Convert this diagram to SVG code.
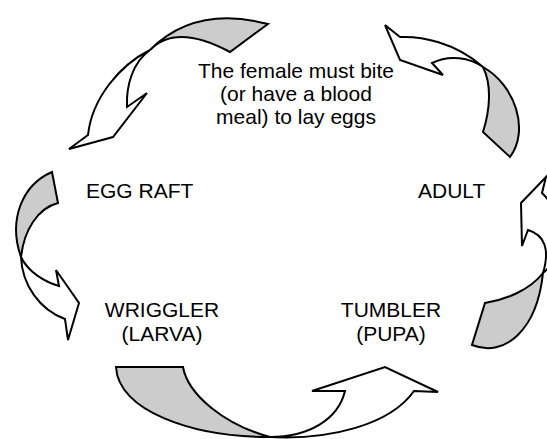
<svg xmlns="http://www.w3.org/2000/svg" width="547" height="439" viewBox="0 0 547 439">
<style>
.back{fill:#cccccc;stroke:#000;stroke-width:2;stroke-linejoin:miter}
.front{fill:#ffffff;stroke:#000;stroke-width:2;stroke-linejoin:miter}
text{font-family:"Liberation Sans",Arial,sans-serif;font-size:21px;fill:#000}
</style>
<rect width="547" height="439" fill="#fff"/>
<g id="connectors">
<g id="arrow-top-left">
<path class="back" d="M150,50 Q195,5 268,24 L230,52 Q176,23 150,50 Z"/>
<path class="front" d="M150,50 C120,65 92,98 88,135 L69,149 L113,137 L147,93 L127,107 C126,85 133,62 150,50 Z"/>
</g>
<g id="arrow-top-right">
<path class="back" d="M483,67 C515,85 530,130 510,157 L483,132 C490,110 492,85 483,67 Z"/>
<path class="front" d="M483,67 C470,58 450,54 432,63 L443,75 L400,60 L385,25 L400,37 C420,36 455,42 483,67 Z"/>
</g>
<g id="arrow-right">
<path class="back" d="M543,273 C530,290 505,300 485,303 L472,345 C505,358 537,330 543,273 Z"/>
<path class="front" d="M543,273 C550,250 545,235 528,230 L522,246 L521,203 L546,177 L542,193 C565,215 565,255 543,273 Z"/>
</g>
<g id="arrow-left">
<path class="back" d="M21,257 C8,220 22,185 52,172 L58,203 C38,208 24,230 21,257 Z"/>
<path class="front" d="M21,257 C22,285 40,310 65,319 L68,340 L79,303 L56,270 L59,286 C45,282 28,272 21,257 Z"/>
</g>
<g id="arrow-bottom">
<path class="back" d="M116,367 L183,367 C188,395 225,425 270,437 C190,437 118,410 116,367 Z"/>
<path class="front" d="M270,437 C330,440 390,425 414,391 L438,392 L385,367 L312,391 L345,391 C338,420 308,437 270,437 Z"/>
</g>
</g>
<g id="note">
<text x="296" y="78" text-anchor="middle">The female must bite</text>
<text x="296" y="101" text-anchor="middle">(or have a blood</text>
<text x="296" y="124" text-anchor="middle">meal) to lay eggs</text>
</g>
<g id="egg-raft"><text x="86" y="198">EGG RAFT</text></g>
<g id="adult"><text x="418" y="198">ADULT</text></g>
<g id="wriggler">
<text x="162" y="317" text-anchor="middle">WRIGGLER</text>
<text x="162" y="341" text-anchor="middle">(LARVA)</text>
</g>
<g id="tumbler">
<text x="391" y="317" text-anchor="middle">TUMBLER</text>
<text x="391" y="341" text-anchor="middle">(PUPA)</text>
</g>
</svg>
